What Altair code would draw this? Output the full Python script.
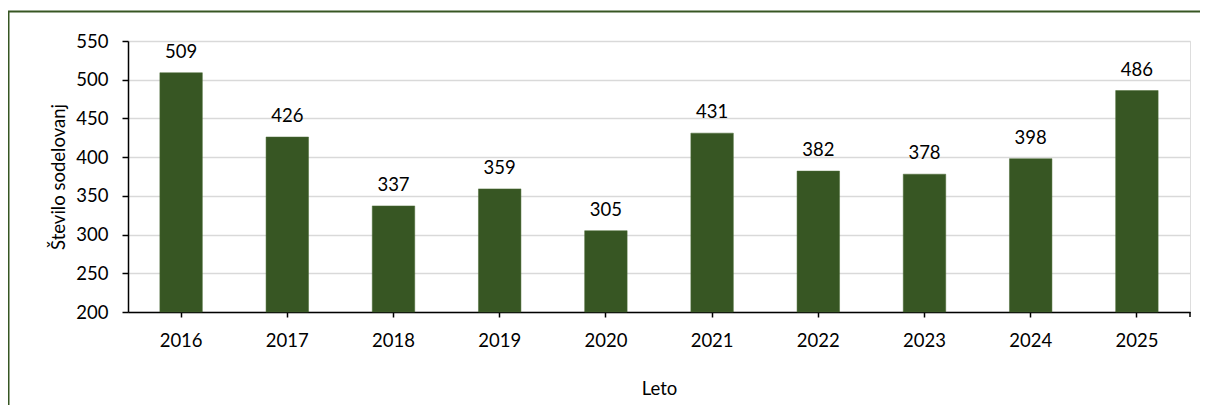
import altair as alt
import pandas as pd

years = ["2016", "2017", "2018", "2019", "2020", "2021", "2022", "2023", "2024", "2025"]
values = [509, 426, 337, 359, 305, 431, 382, 378, 398, 486]
y_ticks = [200, 250, 300, 350, 400, 450, 500, 550]

df = pd.DataFrame({"Leto": years, "Število sodelovanj": values})

W, H = 1062, 271
GREEN = "#375623"
FONT = "Lato"
FS = 18.5

base = alt.Chart(df)

x = alt.X("Leto:N", sort=years,
          scale=alt.Scale(paddingInner=0.6, paddingOuter=0.3),
          axis=alt.Axis(title="Leto", labelAngle=0, domainColor="black", domainWidth=1.5,
                        tickColor="black", tickSize=5, tickWidth=1.5, labelPadding=14,
                        titlePadding=30, labelFontSize=FS, titleFontSize=FS,
                        titleFontWeight="normal", labelColor="black", titleColor="black"))

y = alt.Y("Število sodelovanj:Q",
          scale=alt.Scale(domain=[200, 550], zero=False, nice=False),
          axis=alt.Axis(values=y_ticks,
                        labelOverlap=False,
                        title="Število sodelovanj", domainColor="black", domainWidth=1.5,
                        tickColor="black", tickSize=6, tickWidth=1.5, labelPadding=14,
                        titlePadding=7, labelFontSize=FS, titleFontSize=FS,
                        titleFontWeight="normal", gridColor="#d9d9d9", gridWidth=1.5,
                        labelColor="black", titleColor="black"))

bars = base.mark_bar(color=GREEN, stroke="#4a6b35", strokeWidth=0.5).encode(
    x=x, y=y, y2=alt.datum(200)
)

labels = base.mark_text(baseline="alphabetic", dy=-15, fontSize=FS, font=FONT, color="black").encode(
    x=x, y=y,
    text="Število sodelovanj:Q"
)

endtick = alt.Chart(pd.DataFrame({"a": [0]})).mark_rule(color="black", strokeWidth=1.5).encode(
    x=alt.value(W), y=alt.value(H), y2=alt.value(H + 5)
)

border = alt.Chart(pd.DataFrame({"a": [0]})).mark_rect(
    fill=None, fillOpacity=0, stroke=GREEN, strokeWidth=2
).encode(
    x=alt.value(-119.5), x2=alt.value(W + 200), y=alt.value(-29.5), y2=alt.value(H + 200)
)

chart = alt.layer(bars, labels, endtick, border).properties(
    width=W, height=H,
    autosize=alt.AutoSizeParams(type="none"),
    padding={"left": 120, "top": 33, "right": 10, "bottom": 93},
).configure_view(stroke=None).configure(font=FONT)

chart.save("out.html", embed_options={"renderer": "svg", "actions": False})
